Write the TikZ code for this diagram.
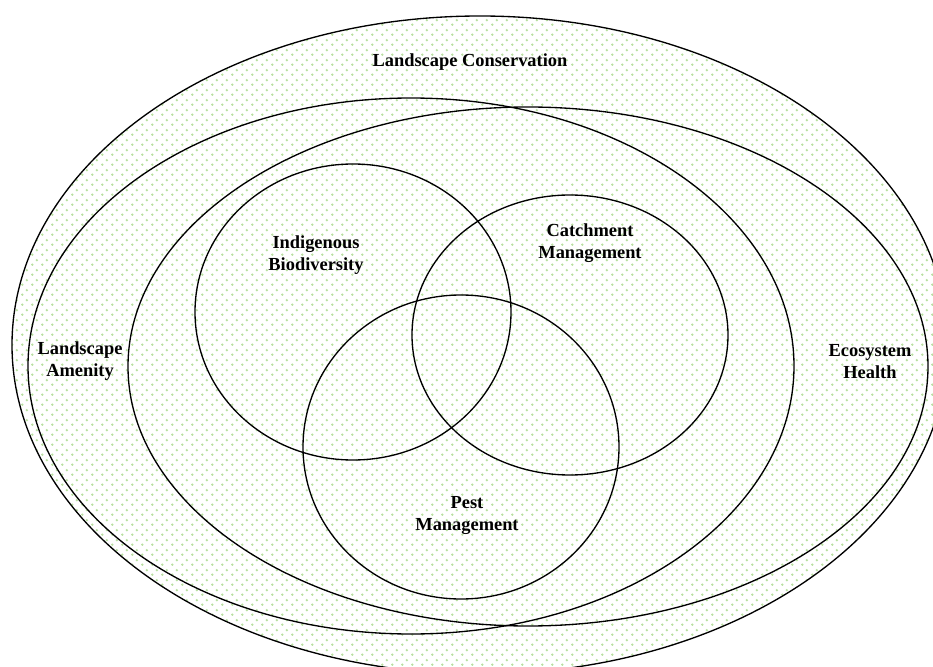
\documentclass[tikz,border=0pt]{standalone}
\usepackage{fontspec}
\setmainfont{Liberation Serif}
\usetikzlibrary{patterns.meta}
\definecolor{dotgreen}{RGB}{184,224,160}
\tikzdeclarepattern{
  name=gdots, type=uncolored,
  bounding box={(0pt,0pt) and (7.5pt,7.5pt)},
  tile size={(7.5pt,7.5pt)},
  code={\fill (1.875pt,1.875pt) circle (1.05pt); \fill (5.625pt,5.625pt) circle (1.05pt);}
}
\tikzset{
  ring/.style={draw=black, line width=1pt},
  lbl/.style={font=\fontsize{13.8}{16.5}\selectfont\bfseries, align=center, inner sep=0pt}
}
\begin{document}
\begin{tikzpicture}[x=0.75pt,y=-0.75pt]
\useasboundingbox (0,0) rectangle (933,667);
\clip (0,0) rectangle (933,667);
\fill[white] (0,0) rectangle (933,667);
\fill[pattern=gdots, pattern color=dotgreen] (480,345) ellipse [x radius=468, y radius=329];
% big ellipses
\draw[ring] (480,345) ellipse [x radius=468, y radius=329];
\draw[ring] (411,366) ellipse [x radius=383, y radius=268];
\draw[ring] (528,366.5) ellipse [x radius=400, y radius=259.5];
% inner circles
\draw[ring] (353,312) ellipse [x radius=158, y radius=148];
\draw[ring] (570,335) ellipse [x radius=158, y radius=140];
\draw[ring] (461,447) ellipse [x radius=158, y radius=152];
% labels
\node[lbl] (cons) at (470,62) {Landscape Conservation};
\node[lbl] (amen) at (80,361) {Landscape\\Amenity};
\node[lbl] (eco) at (870,362) {Ecosystem\\Health};
\node[lbl] (bio) at (316,255) {Indigenous\\Biodiversity};
\node[lbl] (catch) at (590,243) {Catchment\\Management};
\node[lbl] (pest) at (467,516) {Pest\\Management};
\end{tikzpicture}
\end{document}
